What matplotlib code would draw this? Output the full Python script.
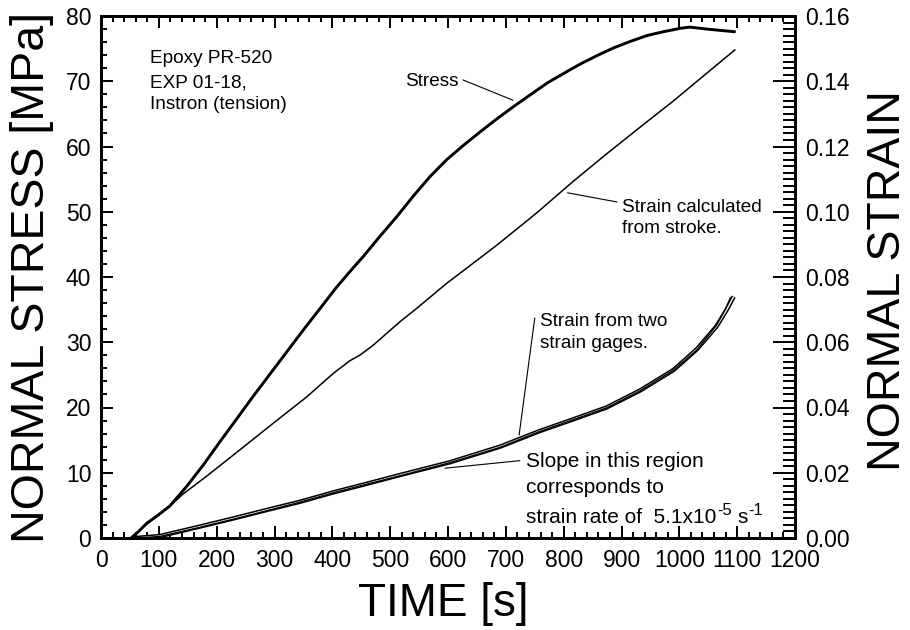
import matplotlib
matplotlib.use("Agg")
import matplotlib.pyplot as plt
from matplotlib.ticker import MultipleLocator, FormatStrFormatter
from matplotlib.transforms import IdentityTransform

plt.rcParams['font.family'] = ['Liberation Sans', 'DejaVu Sans']

# ---------------- data ----------------
stress_t = [52, 65, 79, 100, 119, 148, 177, 206, 235, 263, 292, 321, 350, 379, 407, 436,
            454, 482, 511, 540, 569, 598, 627, 655, 684, 713, 742, 771, 800, 828, 857,
            886, 915, 944, 973, 1001, 1018, 1047, 1070, 1095]
stress_v = [0.0, 1.0, 2.25, 3.6, 4.9, 7.9, 11.2, 14.8, 18.3, 21.7, 25.1, 28.5, 31.9, 35.2,
            38.4, 41.4, 43.2, 46.2, 49.2, 52.4, 55.4, 58.0, 60.2, 62.2, 64.2, 66.1, 67.9,
            69.7, 71.2, 72.6, 73.9, 75.1, 76.1, 77.0, 77.6, 78.1, 78.3, 78.0, 77.8, 77.6]

stroke_t = [52, 79, 100, 119, 142, 183, 240, 298, 356, 402, 430, 448, 470, 517, 546,
            598, 627, 684, 742, 759, 817, 874, 932, 990, 1047, 1096]
stroke_v = [0.0, 0.0043, 0.0070, 0.0098, 0.0135, 0.0190, 0.0270, 0.0352, 0.0433, 0.0505,
            0.0543, 0.0561, 0.0590, 0.0663, 0.0704, 0.0781, 0.0820, 0.0897, 0.0980, 0.1005,
            0.1094, 0.1177, 0.1259, 0.1340, 0.1424, 0.1496]

gage1_t = [60, 102, 171, 229, 287, 344, 402, 459, 517, 603, 690, 759, 817, 874, 932,
           990, 1030, 1064, 1082, 1094]
gage1_v = [0.0, 0.0006, 0.0035, 0.0060, 0.0086, 0.0111, 0.0140, 0.0166, 0.0193, 0.0232,
           0.0280, 0.0328, 0.0364, 0.0400, 0.0452, 0.0515, 0.0578, 0.0648, 0.0700, 0.0740]

gage2_t = [60, 102, 171, 229, 287, 344, 402, 459, 517, 603, 690, 759, 817, 874, 932,
           990, 1030, 1064, 1080, 1088]
gage2_v = [0.0, 0.0005, 0.0033, 0.0058, 0.0084, 0.0110, 0.0139, 0.0165, 0.0191, 0.0231,
           0.0278, 0.0327, 0.0363, 0.0399, 0.0451, 0.0515, 0.0576, 0.0651, 0.0702, 0.0736]

x_ticks = [0, 100, 200, 300, 400, 500, 600, 700, 800, 900, 1000, 1100, 1200]
stress_ticks = [0, 10, 20, 30, 40, 50, 60, 70, 80]
strain_ticks = [0.00, 0.02, 0.04, 0.06, 0.08, 0.10, 0.12, 0.14, 0.16]

# ---------------- figure ----------------
fig = plt.figure(figsize=(9.1, 6.3), dpi=100)
ax = fig.add_axes([101 / 910, 92 / 630, 694 / 910, 522 / 630])
ax2 = ax.twinx()

ax.plot(stress_t, stress_v, color='black', lw=2.1)
ax2.plot(stroke_t, stroke_v, color='black', lw=1.1)
ax2.plot(gage1_t, gage1_v, color='black', lw=3.2, solid_capstyle='butt')
ax2.plot(gage1_t, gage1_v, color='white', lw=1.0, solid_capstyle='butt')
ax2.plot(gage2_t, gage2_v, color='black', lw=0.9)

ax.set_xlim(0, 1200)
ax.set_ylim(0, 80)
ax2.set_ylim(0, 0.16)

ax.set_xticks(x_ticks)
ax.set_yticks(stress_ticks)
ax2.set_yticks(strain_ticks)
ax.xaxis.set_minor_locator(MultipleLocator(20))
ax.yaxis.set_minor_locator(MultipleLocator(2))
ax2.yaxis.set_minor_locator(MultipleLocator(0.002))
ax2.yaxis.set_major_formatter(FormatStrFormatter('%.2f'))

ax.tick_params(axis='x', which='both', direction='in', top=True, bottom=True,
               labelsize=16.5, pad=8)
ax.tick_params(axis='y', which='both', direction='in', left=True, right=False,
               labelsize=16.5, pad=7)
ax.tick_params(which='major', length=8.5, width=1.4)
ax.tick_params(which='minor', length=4.3, width=1.4)
ax2.tick_params(axis='y', which='both', direction='in', right=True, labelsize=16.5, pad=7)
ax2.tick_params(which='major', length=16, width=1.4)
ax2.tick_params(which='minor', length=8.5, width=1.4)

for a in (ax, ax2):
    for sp in a.spines.values():
        sp.set_linewidth(2.0)

ax.set_xlabel('TIME [s]', fontsize=33, va='center')
ax.xaxis.set_label_coords(0.493, -0.126)
ax.set_ylabel('NORMAL STRESS [MPa]', fontsize=33.5, va='center')
ax.yaxis.set_label_coords(-0.099, 0.5)
ax2.set_ylabel('NORMAL STRAIN', fontsize=33.5, va='center', rotation=90)
ax2.yaxis.set_label_coords(1.134, 0.494)

# ---------------- annotations (stress-axis data coordinates) ----------------
fs = 13.7
ax.text(85, 72.75, 'Epoxy PR-520', fontsize=fs, va='baseline')
ax.text(85, 69.1, 'EXP 01-18,', fontsize=fs, va='baseline')
ax.text(85, 65.7, 'Instron (tension)', fontsize=fs, va='baseline')

ax.text(526, 69.3, 'Stress', fontsize=fs, va='baseline')
ax.plot([626, 712], [70.2, 67.1], color='black', lw=0.8)

ax.text(901, 50.0, 'Strain calculated', fontsize=fs, va='baseline')
ax.text(901, 46.7, 'from stroke.', fontsize=fs, va='baseline')
ax.plot([892, 807], [51.5, 52.9], color='black', lw=0.8)

ax.text(759, 32.5, 'Strain from two', fontsize=fs, va='baseline')
ax.text(759, 29.1, 'strain gages.', fontsize=fs, va='baseline')
ax.plot([750, 723], [33.7, 15.8], color='black', lw=0.8)

fs2 = 15
ax.text(735, 10.9, 'Slope in this region', fontsize=fs2, va='baseline')
ax.text(735, 6.85, 'corresponds to', fontsize=fs2, va='baseline')
t_rate = ax.text(735, 2.25, 'strain rate of  5.1x10', fontsize=fs2, va='baseline')
ax.plot([724, 595], [11.85, 10.7], color='black', lw=0.8)

# superscripts placed after the main text (display pixels)
fig.canvas.draw()
renderer = fig.canvas.get_renderer()
base = ax.transData.transform((735, 2.25))[1]
x0 = t_rate.get_window_extent(renderer).x1
sup1 = fig.text(x0 + 0.5, base + 8, '-5', fontsize=12, va='baseline', transform=IdentityTransform())
fig.canvas.draw()
x1 = sup1.get_window_extent(renderer).x1
s_txt = fig.text(x1 + 6, base, 's', fontsize=fs2, va='baseline', transform=IdentityTransform())
fig.canvas.draw()
x2 = s_txt.get_window_extent(renderer).x1
fig.text(x2 + 0.5, base + 8, '-1', fontsize=12, va='baseline', transform=IdentityTransform())

fig.savefig('out.png', dpi=100)
